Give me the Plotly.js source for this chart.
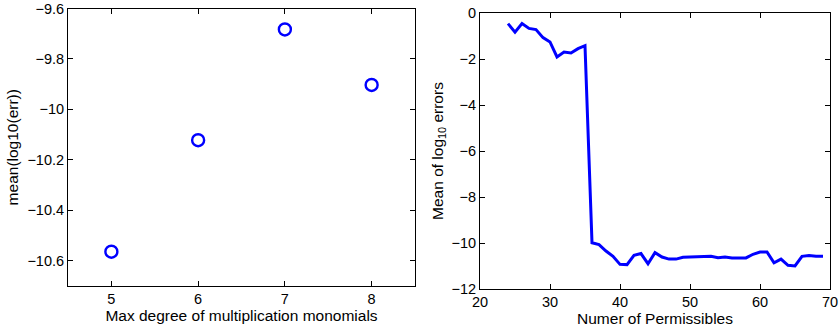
<!DOCTYPE html>
<html>
<head>
<meta charset="utf-8">
<script src="https://cdn.plot.ly/plotly-3.0.1.min.js"></script>
<style>html,body{margin:0;padding:0;background:#fff;}#plot{width:840px;height:328px;}</style>
</head>
<body>
<div id="plot"></div>
<script>
// Left panel: max degree vs mean(log10(err))
const degrees = [5, 6, 7, 8];
const meanLogErr = [-10.564, -10.122, -9.683, -9.903];

// Right panel: number of permissibles vs mean of log10 errors
const permissibles = [24,25,26,27,28,29,30,31,32,33,34,35,36,37,38,39,40,41,42,43,44,45,46,47,48,49,50,51,52,53,54,55,56,57,58,59,60,61,62,63,64,65,66,67,68,69];
const meanLog10Errors = [-0.46,-0.83,-0.46,-0.67,-0.72,-1.07,-1.26,-1.91,-1.70,-1.74,-1.55,-1.42,
  -9.99,-10.07,-10.35,-10.58,-10.93,-10.94,-10.54,-10.46,-10.90,-10.42,-10.61,-10.70,-10.70,-10.62,
  -10.61,-10.61,-10.61,-10.58,-10.64,-10.61,-10.65,-10.64,-10.65,-10.49,-10.39,-10.39,-10.86,-10.70,
  -10.97,-11.0,-10.58,-10.54,-10.58,-10.58];

const leftXTicks = [5, 6, 7, 8];
const leftYTicks = [-9.6, -9.8, -10, -10.2, -10.4, -10.6];
const rightXTicks = [20, 30, 40, 50, 60, 70];
const rightYTicks = [0, -2, -4, -6, -8, -10, -12];

const blue = '#0000ff';
const fam = '"Liberation Sans", Arial, Helvetica, sans-serif';
const tickFont = {family: fam, size: 14.5, color: '#000'};
const titleFont = {family: fam, size: 15.5, color: '#000'};

const axisCommon = {
  showline: true, linecolor: '#000', linewidth: 1, mirror: 'ticks',
  ticks: 'inside', ticklen: 5, tickwidth: 1, tickcolor: '#000',
  showgrid: false, zeroline: false, automargin: false,
  tickfont: tickFont
};

const traces = [
  {
    x: degrees, y: meanLogErr, xaxis: 'x', yaxis: 'y',
    type: 'scatter', mode: 'markers',
    marker: {symbol: 'circle-open', size: 12, color: blue, line: {width: 2.4, color: blue}},
    hoverinfo: 'skip'
  },
  {
    x: permissibles, y: meanLog10Errors, xaxis: 'x2', yaxis: 'y2',
    type: 'scatter', mode: 'lines',
    line: {color: blue, width: 3},
    hoverinfo: 'skip'
  }
];

const layout = {
  width: 840, height: 328,
  margin: {l: 0, r: 0, t: 0, b: 0},
  paper_bgcolor: '#fff', plot_bgcolor: '#fff',
  showlegend: false,
  font: tickFont,
  xaxis: Object.assign({}, axisCommon, {
    domain: [68/840, 415/840], range: [4.5, 8.5],
    tickmode: 'array', tickvals: leftXTicks,
    title: {text: 'Max degree of multiplication monomials', font: titleFont, standoff: 0}
  }),
  yaxis: Object.assign({}, axisCommon, {
    domain: [1 - 286/328, 1 - 8.5/328], range: [-10.7, -9.6],
    tickmode: 'array', tickvals: leftYTicks, ticktext: leftYTicks.map(v => String(v).replace('-', '\u2212')),
    title: {text: 'mean(log10(err))', font: titleFont, standoff: 4}
  }),
  xaxis2: Object.assign({}, axisCommon, {
    domain: [480/840, 830/840], range: [20, 70], anchor: 'y2',
    tickmode: 'array', tickvals: rightXTicks,
    title: {text: 'Numer of Permissibles', font: titleFont, standoff: 0}
  }),
  yaxis2: Object.assign({}, axisCommon, {
    domain: [1 - 289/328, 1 - 13/328], range: [-12, 0], anchor: 'x2',
    tickmode: 'array', tickvals: rightYTicks, ticktext: rightYTicks.map(v => String(v).replace('-', '\u2212')),
    title: {text: 'Mean of log<sub>10</sub> errors', font: titleFont, standoff: 4}
  })
};

Plotly.newPlot('plot', traces, layout, {staticPlot: true, displayModeBar: false});
</script>
</body>
</html>
